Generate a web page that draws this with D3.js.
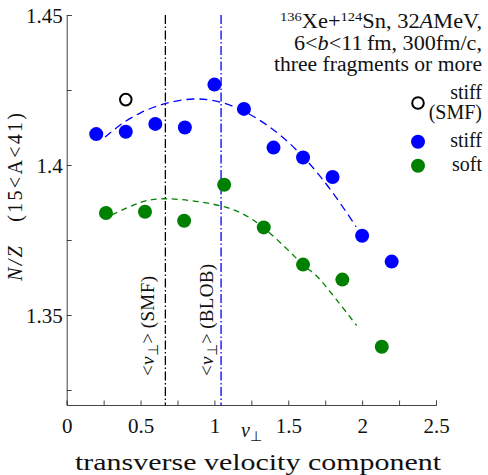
<!DOCTYPE html>
<html>
<head>
<meta charset="utf-8">
<script src="https://cdn.jsdelivr.net/npm/d3@7"></script>
</head>
<body style="margin:0">
<div id="chart"></div>
<script>
// data
var stiffX = [0.2, 0.4, 0.6, 0.8, 1.0, 1.2, 1.4, 1.6, 1.8, 2.0, 2.2]
var stiffY = [1.4103, 1.4111, 1.4137, 1.4125, 1.4268, 1.4187, 1.4058, 1.4025, 1.396, 1.3764, 1.3678]
var softX = [0.266, 0.53, 0.795, 1.066, 1.334, 1.6, 1.866, 2.133]
var softY = [1.384, 1.3844, 1.3814, 1.3934, 1.3792, 1.3668, 1.3618, 1.3394]
var smfX = [0.4]
var smfY = [1.4218]
// dashed fit curves
var stiffFitX = [0.26, 0.5, 0.86, 1.2, 1.5, 1.75, 1.96]
var stiffFitY = [1.4093, 1.4174, 1.422, 1.4179, 1.4076, 1.3941, 1.3794]
var softFitX = [0.305, 0.5, 0.7, 1.04, 1.33, 1.6, 1.715, 1.963]
var softFitY = [1.3834, 1.3875, 1.3887, 1.3864, 1.3792, 1.3668, 1.3618, 1.3465]
// mean transverse velocities
var vMeanSMF = 0.668
var vMeanBLOB = 1.045
var xTicks = [0, 0.5, 1, 1.5, 2, 2.5]
var yTicks = [1.35, 1.4, 1.45]

var width = 488, height = 475
var margin = {top: 15, right: 52, bottom: 70, left: 66.7}
var serif = "'Liberation Serif'"

var svg = d3.select("#chart").append("svg")
    .attr("width", width)
    .attr("height", height)
    .style("font-family", serif)

var x = d3.scaleLinear().domain([0, 2.5]).range([margin.left, width - margin.right])
var y = d3.scaleLinear().domain([1.32, 1.45]).range([height - margin.bottom, margin.top])

var blue = "#0000ff", green = "#008000"

// small helper so every label gets the serif face
function label(px, py, size){
    return svg.append("text")
        .attr("x", px).attr("y", py)
        .style("font-family", serif)
        .style("font-size", size + "px")
        .attr("fill", "#111")
}

// axes (ticks inward)
var xAxis = d3.axisBottom(x)
    .tickValues(d3.range(0, 2.51, 0.25))
    .tickSize(-4.5)
    .tickPadding(10)
    .tickFormat(function(d){ return xTicks.indexOf(+d.toFixed(2)) >= 0 ? d3.format("")(+d.toFixed(2)) : "" })
var yAxis = d3.axisLeft(y)
    .tickValues(d3.range(1.325, 1.451, 0.025))
    .tickSize(-5)
    .tickPadding(4)
    .tickFormat(function(d){ return yTicks.indexOf(+d.toFixed(3)) >= 0 ? d3.format("")(+d.toFixed(3)) : "" })

var gx = svg.append("g")
    .attr("transform", "translate(0," + (height - margin.bottom) + ")")
    .call(xAxis)
var gy = svg.append("g")
    .attr("transform", "translate(" + margin.left + ",0)")
    .call(yAxis)
;[gx, gy].forEach(function(g){
    g.attr("font-family", null).attr("font-size", null)
    g.select(".domain").attr("stroke", "#444")
    g.selectAll(".tick line").attr("stroke", "#444")
    g.selectAll(".tick text")
        .style("font-family", serif)
        .style("font-size", "21px")
        .attr("fill", "#111")
})
gx.selectAll(".tick text").attr("dy", "0.85em")
gy.selectAll(".tick text").attr("dy", "0.35em")

// vertical mean lines
function vline(v, color){
    svg.append("line")
        .attr("x1", x(v)).attr("x2", x(v))
        .attr("y1", y(1.45)).attr("y2", y(1.32))
        .attr("stroke", color)
        .attr("stroke-width", 1.3)
        .attr("stroke-dasharray", "9,2.5,1.5,2.5")
}
vline(vMeanSMF, "#000")
vline(vMeanBLOB, blue)

// fit curves
var line = d3.line().curve(d3.curveNatural)
svg.append("path")
    .attr("d", line(stiffFitX.map(function(d, i){ return [x(d), y(stiffFitY[i])] })))
    .attr("fill", "none").attr("stroke", blue)
    .attr("stroke-width", 1.3).attr("stroke-dasharray", "8,5")
svg.append("path")
    .attr("d", line(softFitX.map(function(d, i){ return [x(d), y(softFitY[i])] })))
    .attr("fill", "none").attr("stroke", green)
    .attr("stroke-width", 1.3).attr("stroke-dasharray", "6,4.5")

// points
svg.append("g").selectAll("circle")
    .data(stiffX)
    .enter().append("circle")
    .attr("cx", function(d){ return x(d) })
    .attr("cy", function(d, i){ return y(stiffY[i]) })
    .attr("r", 7)
    .attr("fill", blue)
svg.append("g").selectAll("circle")
    .data(softX)
    .enter().append("circle")
    .attr("cx", function(d){ return x(d) })
    .attr("cy", function(d, i){ return y(softY[i]) })
    .attr("r", 7)
    .attr("fill", green)
svg.append("g").selectAll("circle")
    .data(smfX)
    .enter().append("circle")
    .attr("cx", function(d){ return x(d) })
    .attr("cy", function(d, i){ return y(smfY[i]) })
    .attr("r", 5.8)
    .attr("fill", "none")
    .attr("stroke", "#000")
    .attr("stroke-width", 2)

// rotated labels along the mean lines
function vlabel(xc, name, len){
    var t = label(0, 0, 19)
        .attr("transform", "translate(" + xc + ",376) rotate(-90)")
        .attr("textLength", len)
    t.append("tspan").text("<")
    t.append("tspan").text("v").style("font-style", "italic")
    t.append("tspan").text("\u22a5").attr("dy", 4).style("font-size", "14px")
    t.append("tspan").text(">\u2009(" + name + ")").attr("dy", -4)
}
vlabel(154, "SMF", 100)
vlabel(213, "BLOB", 112)

// y axis title
var yt = label(0, 0, 20)
    .attr("transform", "translate(22,197) rotate(-90)")
    .attr("text-anchor", "middle")
    .attr("textLength", 168)
yt.append("tspan").text("N/Z").style("font-style", "italic")
yt.append("tspan").text("\u2003(15<A<41)")

// x axis titles
var xt = label(x(1.25), 437, 20).attr("text-anchor", "middle")
xt.append("tspan").text("v").style("font-style", "italic")
xt.append("tspan").text("\u22a5").attr("dy", 4).style("font-size", "14px")
label(258, 470, 24)
    .attr("text-anchor", "middle")
    .attr("textLength", 366)
    .attr("lengthAdjust", "spacingAndGlyphs")
    .text("transverse velocity component")

// header
var hx = 482
var h1 = label(hx, 28, 20).attr("text-anchor", "end")
    .attr("textLength", 202).attr("lengthAdjust", "spacingAndGlyphs")
h1.append("tspan").text("136").attr("dy", -7).style("font-size", "13px")
h1.append("tspan").text("Xe+").attr("dy", 7)
h1.append("tspan").text("124").attr("dy", -7).style("font-size", "13px")
h1.append("tspan").text("Sn, 32").attr("dy", 7)
h1.append("tspan").text("A").style("font-style", "italic")
h1.append("tspan").text("MeV,")
var h2 = label(hx, 50, 20).attr("text-anchor", "end")
    .attr("textLength", 188).attr("lengthAdjust", "spacingAndGlyphs")
h2.append("tspan").text("6<")
h2.append("tspan").text("b").style("font-style", "italic")
h2.append("tspan").text("<11\u2009fm, 300fm/c,")
label(hx, 71, 20).attr("text-anchor", "end")
    .attr("textLength", 208).attr("lengthAdjust", "spacingAndGlyphs")
    .text("three fragments or more")

// legend
svg.append("circle").attr("cx", 418).attr("cy", 103).attr("r", 5.8)
    .attr("fill", "none").attr("stroke", "#000").attr("stroke-width", 2)
label(hx, 99, 20).attr("text-anchor", "end").text("stiff")
label(hx, 119, 20).attr("text-anchor", "end").text("(SMF)")
svg.append("circle").attr("cx", 418).attr("cy", 141.7).attr("r", 7).attr("fill", blue)
label(hx, 147, 20).attr("text-anchor", "end").text("stiff")
svg.append("circle").attr("cx", 418).attr("cy", 165.7).attr("r", 7).attr("fill", green)
label(hx, 171, 20).attr("text-anchor", "end").text("soft")
</script>
</body>
</html>
